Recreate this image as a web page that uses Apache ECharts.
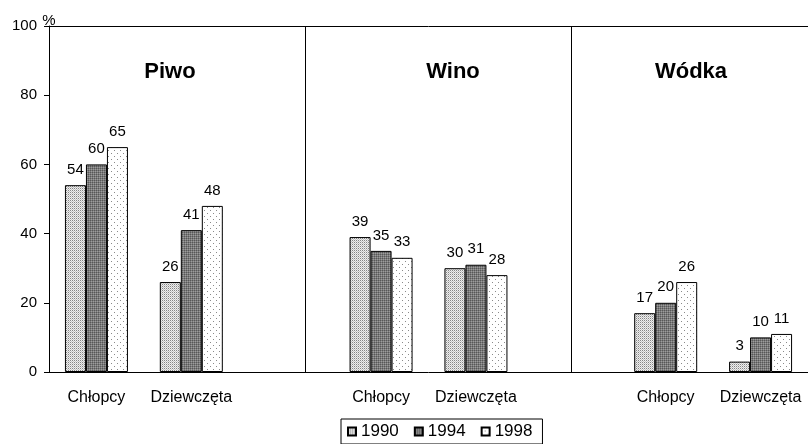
<!DOCTYPE html>
<html>
<head>
<meta charset="utf-8">
<script src="https://cdn.jsdelivr.net/npm/echarts@6/dist/echarts.min.js"></script>
<style>
  html, body { margin: 0; padding: 0; background: #fff; }
  #chart { width: 808px; height: 444px; }
</style>
</head>
<body>
<div id="chart"></div>
<script>
// data
const panels = ['Piwo', 'Wino', 'Wódka']
const groups = ['Chłopcy', 'Dziewczęta']
const years = ['1990', '1994', '1998']
const y1990 = [54, 26, 39, 30, 17, 3]
const y1994 = [60, 41, 35, 31, 20, 10]
const y1998 = [65, 48, 33, 28, 26, 11]
const yTicks = [0, 20, 40, 60, 80, 100]
const dividers = [2.7, 5.5]   // panel separators, in category slots

// categories: two groups per panel, blank slot between panels
const categories = []
panels.forEach((p, i) => {
  if (i > 0) categories.push('')
  groups.forEach(g => categories.push(g))
})
const withGaps = vals => {
  const out = []
  panels.forEach((p, i) => {
    if (i > 0) out.push('-')
    out.push(vals[i * 2], vals[i * 2 + 1])
  })
  return out
}

// dotted fills like the old excel patterns
const makePattern = (size, bg, dots) => {
  const c = document.createElement('canvas')
  c.width = size
  c.height = size
  const ctx = c.getContext('2d')
  ctx.fillStyle = bg
  ctx.fillRect(0, 0, size, size)
  dots.forEach(([x, y, col]) => {
    ctx.fillStyle = col
    ctx.fillRect(x, y, 1, 1)
  })
  return { image: c, repeat: 'repeat' }
}
const fills = [
  makePattern(2, '#eeeeee', [[0, 0, '#858585'], [1, 1, '#c4c4c4']]),
  makePattern(2, '#7a7a7a', [[0, 0, '#575757'], [1, 1, '#9c9c9c']]),
  makePattern(6, '#ffffff', [[0, 0, '#8a8a8a'], [3, 3, '#8a8a8a']])
]

const font = 'Arial, "Liberation Sans", sans-serif'
const chart = echarts.init(document.getElementById('chart'))

const barSeries = [y1990, y1994, y1998].map((vals, i) => ({
  name: years[i],
  type: 'bar',
  barWidth: 21,
  barGap: '0%',
  data: withGaps(vals),
  itemStyle: { color: fills[i], borderColor: '#000', borderWidth: 1 },
  label: {
    show: true,
    position: 'top',
    distance: 8,
    color: '#000',
    fontSize: 15,
    fontFamily: font
  }
}))

chart.setOption({
  animation: false,
  backgroundColor: '#fff',
  title: [
    { text: panels[0], left: 170, top: 61, textAlign: 'center' },
    { text: panels[1], left: 453, top: 61, textAlign: 'center' },
    { text: panels[2], left: 691, top: 61, textAlign: 'center' }
  ].map(t => ({
    ...t,
    padding: 0,
    textStyle: { fontSize: 22, fontWeight: 'bold', color: '#000', fontFamily: font }
  })),
  legend: {
    data: years,
    left: 341,
    top: 419,
    padding: [4, 10, 4, 6],
    itemGap: 15,
    itemWidth: 8,
    itemHeight: 8,
    icon: 'rect',
    borderColor: '#000',
    borderWidth: 1,
    borderRadius: 0,
    textStyle: { fontSize: 17, color: '#000', fontFamily: font }
  },
  grid: { left: 49, right: -1, top: 26, bottom: 72 },
  xAxis: [
    {
      type: 'category',
      data: categories,
      axisLine: { lineStyle: { color: '#000', width: 1 } },
      axisTick: { show: false },
      axisLabel: { color: '#000', fontSize: 16, margin: 18, fontFamily: font, interval: 0 }
    },
    {
      type: 'value',
      position: 'top',
      min: 0,
      max: categories.length,
      axisLine: { show: true, lineStyle: { color: '#000', width: 1 } },
      axisTick: { show: false },
      axisLabel: { show: false },
      splitLine: { show: false }
    }
  ],
  yAxis: {
    type: 'value',
    min: yTicks[0],
    max: yTicks[yTicks.length - 1],
    interval: 20,
    name: '%',
    nameLocation: 'end',
    nameGap: -2,
    nameMoveOverlap: false,
    nameTextStyle: { fontSize: 15, color: '#000', fontFamily: font, verticalAlign: 'bottom' },
    axisLine: { show: true, lineStyle: { color: '#000', width: 1 } },
    axisTick: { show: true, length: 5, lineStyle: { color: '#000' } },
    axisLabel: { color: '#000', fontSize: 15, margin: 12, fontFamily: font },
    splitLine: { show: false }
  },
  series: [
    ...barSeries,
    {
      name: 'dividers',
      type: 'line',
      xAxisIndex: 1,
      data: [],
      silent: true,
      markLine: {
        silent: true,
        symbol: 'none',
        label: { show: false },
        lineStyle: { color: '#000', width: 1, type: 'solid' },
        data: dividers.map(d => ({ xAxis: d }))
      }
    }
  ]
})
</script>
</body>
</html>
